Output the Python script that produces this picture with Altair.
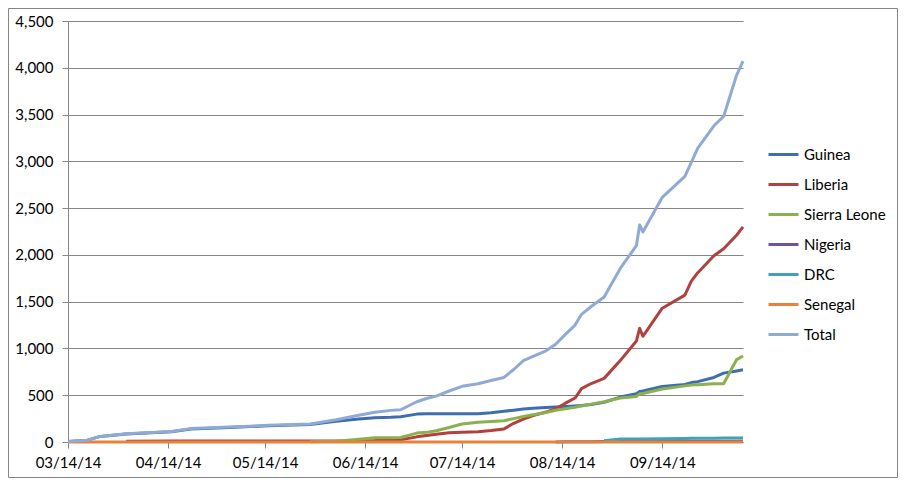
import altair as alt
import pandas as pd

dates = ["2014-03-14", "2014-03-20", "2014-03-24", "2014-04-01", "2014-04-15", "2014-04-21",
         "2014-05-03", "2014-05-15", "2014-05-28", "2014-06-05", "2014-06-12", "2014-06-17",
         "2014-06-22", "2014-06-25", "2014-06-30", "2014-07-03", "2014-07-06", "2014-07-10",
         "2014-07-14", "2014-07-19", "2014-07-23", "2014-07-27", "2014-07-30", "2014-08-02",
         "2014-08-05", "2014-08-09", "2014-08-12", "2014-08-15", "2014-08-18", "2014-08-20",
         "2014-08-23", "2014-08-27", "2014-09-01", "2014-09-06", "2014-09-07", "2014-09-08",
         "2014-09-14", "2014-09-21", "2014-09-23", "2014-09-25", "2014-09-30", "2014-10-03",
         "2014-10-07", "2014-10-09"]

guinea = [5, 20, 60, 85, 110, 140, 155, 173, 188, 222, 245, 260,
          264, 270, 298, 302, 303, 303, 303, 303, 312, 328, 340, 353,
          362, 370, 375, 380, 386, 390, 400, 425, 480, 515, 540, 545,
          594, 615, 635, 645, 690, 736, 760, 772]

liberia = [None, None, None, 7, 11, 11, 11, 11, 11, 11, 12, 16,
           24, 25, 55, 70, 84, 98, 105, 110, 122, 140, 200, 245,
           282, 320, 355, 415, 470, 570, 625, 680, 870, 1080, 1215, 1130,
           1430, 1570, 1720, 1810, 1990, 2066, 2210, 2300]

sierra_leone = [None, None, None, None, None, None, None, None, 3, 8, 30, 45,
                46, 48, 95, 103, 120, 155, 192, 210, 220, 228, 250, 272,
                292, 315, 340, 355, 372, 385, 405, 430, 470, 487, 515, 518,
                566, 600, 608, 612, 622, 622, 880, 920]

nigeria = [None] * 26 + [1, 2, 2, 2, 4, 5, 6, 8, 8, 8,
                         8, 8, 8, 8, 8, 8, 8, 8]

drc = [None] * 31 + [13, 31, 32, 32, 32,
                     35, 38, 40, 41, 41, 42, 43, 43]

senegal = [0, 0, 0, 0, 0, 0, 0, 0, 0, 0, 0, 0,
           0, 0, 0, 0, 0, 0, 0, 0, 0, 0, 0, 0,
           0, 0, 0, 0, 0, 0, 0, 0, 0, 0, 0, 0,
           0, 0, 0, 0, 0, 0, 0, 0]

total = [5, 20, 60, 87, 112, 143, 160, 178, 193, 238, 285, 318,
         338, 345, 430, 465, 490, 545, 595, 622, 658, 690, 775, 870,
         915, 975, 1045, 1150, 1250, 1365, 1448, 1550, 1855, 2100, 2320, 2245,
         2615, 2840, 2990, 3140, 3380, 3480, 3920, 4070]

series_names = ["Guinea", "Liberia", "Sierra Leone", "Nigeria", "DRC", "Senegal", "Total"]
series_colors = ["#3E6EAD", "#B2403D", "#8DB04F", "#6F5597", "#3FA2B8", "#E8813A", "#8FAAD4"]
y_ticks = [0, 500, 1000, 1500, 2000, 2500, 3000, 3500, 4000, 4500]
x_ticks = [(2014, 3, 14), (2014, 4, 14), (2014, 5, 14), (2014, 6, 14),
           (2014, 7, 14), (2014, 8, 14), (2014, 9, 14)]
x_start = (2014, 3, 14)
x_end = (2014, 10, 9)

all_values = [guinea, liberia, sierra_leone, nigeria, drc, senegal, total]
rows = []
for order, (name, vals) in enumerate(zip(series_names, all_values)):
    for d, v in zip(dates, vals):
        if v is not None:
            rows.append({"date": d, "series": name, "deaths": v, "k": order})
df = pd.DataFrame(rows)


def dt(t):
    return alt.DateTime(year=t[0], month=t[1], date=t[2], utc=True)


FONT = "Lato"
GREY = "#868686"

lines = alt.Chart(df).mark_line(strokeWidth=3, strokeJoin="round").encode(
    x=alt.X("date:T",
            scale=alt.Scale(type="utc", domain=[dt(x_start), dt(x_end)]),
            axis=alt.Axis(values=[dt(t) for t in x_ticks], format="%m/%d/%y",
                          title=None, grid=False, tickSize=6, labelPadding=7,
                          labelFont=FONT, labelFontSize=15, labelColor="#000000",
                          domainColor=GREY, tickColor=GREY, labelFlush=False)),
    y=alt.Y("deaths:Q",
            scale=alt.Scale(domain=[0, 4500], nice=False),
            axis=alt.Axis(values=y_ticks, format=",.0f", title=None, grid=True,
                          gridColor=GREY, gridWidth=1, tickSize=6, labelPadding=9,
                          labelFont=FONT, labelFontSize=15, labelColor="#000000",
                          domainColor=GREY, tickColor=GREY)),
    color=alt.Color("series:N",
                    scale=alt.Scale(domain=series_names, range=series_colors),
                    legend=alt.Legend(orient="none", legendX=699, legendY=117, title=None,
                                      symbolType="stroke", symbolSize=900,
                                      symbolStrokeWidth=3, labelFont=FONT,
                                      labelFontSize=15, labelColor="#000000",
                                      rowPadding=5, labelOffset=4)),
    detail="k:O",
)

frame = alt.Chart(pd.DataFrame({"a": [0]})).mark_rect(
    fillOpacity=0, stroke=GREY, strokeWidth=1
).encode(
    x=alt.value(-59.5), x2=alt.value(829.5), y=alt.value(-12.5), y2=alt.value(456.5)
)

chart = alt.layer(lines, frame).properties(
    width=675, height=421,
    autosize=alt.AutoSizeParams(type="none"),
    padding={"left": 60, "top": 13, "right": 155, "bottom": 36},
    background="white",
).configure_view(stroke=None)

chart.save("out.html", embed_options={"renderer": "svg", "actions": False})
